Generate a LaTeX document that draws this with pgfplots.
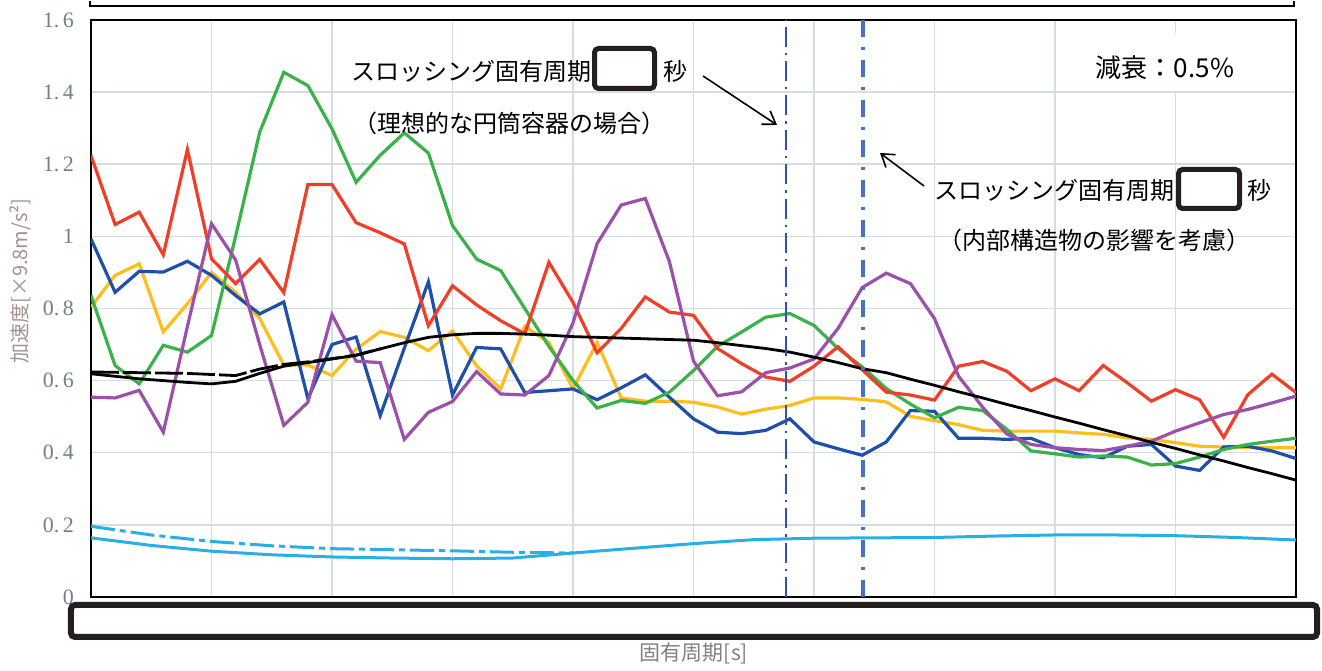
\documentclass[border=0pt]{standalone}
\usepackage{pgfplots}
\pgfplotsset{compat=1.18}
\usetikzlibrary{arrows.meta}
\usepackage{fontspec}
\setmainfont{Liberation Serif}
\newfontfamily\cjk{Noto Sans CJK JP}
\definecolor{cred}{RGB}{240,62,40}
\definecolor{cgreen}{RGB}{58,178,74}
\definecolor{cblue}{RGB}{30,80,170}
\definecolor{cyellow}{RGB}{255,190,30}
\definecolor{cpurple}{RGB}{155,80,170}
\definecolor{ccyan}{RGB}{40,175,230}
\definecolor{gridc}{RGB}{214,220,228}
\definecolor{tickc}{RGB}{110,128,144}
\definecolor{ylabc}{RGB}{165,145,140}
\definecolor{xlabc}{RGB}{128,128,128}
\definecolor{vlone}{RGB}{50,80,175}
\definecolor{vltwo}{RGB}{68,114,196}
\definecolor{boxc}{RGB}{35,31,32}
\begin{document}
\begin{tikzpicture}
\begin{scope}[x=0.5pt, y=-0.5pt, shift={(-45.5pt,297pt)}]
\path[use as bounding box] (0,0) rectangle (1322,662);
\end{scope}
\begin{axis}[
  at={(0pt,0pt)}, anchor=south west, scale only axis,
  width=602.5pt, height=288.5pt,
  xmin=0, xmax=10, ymin=0, ymax=1.6,
  xtick={0,1,2,3,4,5,6,7,8,9,10}, xticklabels={},
  ytick={0,0.2,0.4,0.6,0.8,1,1.2,1.4,1.6},
  yticklabels={0,{0.\,2},{0.\,4},{0.\,6},{0.\,8},1,{1.\,2},{1.\,4},{1.\,6}},
  grid=major, grid style={gridc, line width=0.75pt},
  major tick length=0pt,
  axis line style={black, line width=1pt},
  yticklabel style={font=\fontsize{11}{12}\selectfont, text=tickc, xshift=-5pt},
]
% cyan dashed (upper)
\addplot[ccyan, line width=1.5pt, dash pattern=on 12pt off 2.5pt on 3pt off 2.5pt] coordinates {
(0,0.196)(0.5,0.172)(1,0.154)(1.5,0.142)(2,0.134)(2.5,0.131)(3,0.128)(3.5,0.124)(4,0.122)};
% cyan solid
\addplot[ccyan, line width=1.5pt] coordinates {
(0,0.164)(0.5,0.143)(1,0.127)(1.5,0.117)(2,0.111)(2.5,0.108)(3,0.106)(3.5,0.108)(4,0.122)(4.5,0.135)(5,0.148)(5.5,0.159)(6,0.163)(6.5,0.164)(7,0.165)(7.5,0.169)(8,0.172)(8.5,0.172)(9,0.170)(9.5,0.165)(10,0.158)};
% yellow
\addplot[cyellow, line width=1.6pt] coordinates {
(0,0.804)(0.2,0.892)(0.4,0.924)(0.6,0.735)(0.8,0.813)(1.0,0.900)(1.2,0.845)(1.4,0.772)(1.6,0.643)(1.8,0.643)(2.0,0.614)(2.2,0.687)(2.4,0.736)(2.6,0.720)(2.8,0.683)(3.0,0.738)(3.2,0.641)(3.4,0.577)(3.6,0.750)(3.8,0.706)(4.0,0.577)(4.2,0.706)(4.4,0.552)(4.6,0.543)(4.8,0.543)(5.0,0.540)(5.2,0.527)(5.4,0.507)(5.6,0.521)(5.8,0.531)(6.0,0.552)(6.2,0.552)(6.4,0.548)(6.6,0.541)(6.8,0.501)(7.0,0.489)(7.2,0.478)(7.4,0.462)(7.6,0.460)(7.8,0.460)(8.0,0.460)(8.2,0.455)(8.4,0.451)(8.6,0.441)(8.8,0.437)(9.0,0.428)(9.2,0.418)(9.4,0.416)(9.6,0.414)(9.8,0.414)(10,0.414)};
% blue
\addplot[cblue, line width=1.6pt] coordinates {
(0,0.993)(0.2,0.845)(0.4,0.903)(0.6,0.901)(0.8,0.931)(1.0,0.892)(1.2,0.836)(1.4,0.785)(1.6,0.818)(1.8,0.550)(2.0,0.700)(2.2,0.721)(2.4,0.503)(2.6,0.690)(2.8,0.874)(3.0,0.560)(3.2,0.692)(3.4,0.688)(3.6,0.567)(3.8,0.572)(4.0,0.577)(4.2,0.547)(4.4,0.580)(4.6,0.616)(4.8,0.554)(5.0,0.494)(5.2,0.457)(5.4,0.453)(5.6,0.462)(5.8,0.494)(6.0,0.430)(6.2,0.411)(6.4,0.393)(6.6,0.430)(6.8,0.517)(7.0,0.515)(7.2,0.440)(7.4,0.440)(7.6,0.437)(7.8,0.440)(8.0,0.414)(8.2,0.395)(8.4,0.386)(8.6,0.418)(8.8,0.423)(9.0,0.363)(9.2,0.351)(9.4,0.416)(9.6,0.418)(9.8,0.405)(10,0.384)};
% green
\addplot[cgreen, line width=1.6pt] coordinates {
(0,0.836)(0.2,0.642)(0.4,0.591)(0.6,0.698)(0.8,0.679)(1.0,0.725)(1.2,1.000)(1.4,1.289)(1.6,1.455)(1.8,1.418)(2.0,1.298)(2.2,1.150)(2.4,1.225)(2.6,1.287)(2.8,1.231)(3.0,1.030)(3.2,0.937)(3.4,0.905)(3.6,0.800)(3.8,0.695)(4.0,0.600)(4.2,0.524)(4.4,0.545)(4.6,0.537)(4.8,0.568)(5.0,0.628)(5.2,0.695)(5.4,0.735)(5.6,0.776)(5.8,0.786)(6.0,0.753)(6.2,0.689)(6.4,0.638)(6.6,0.578)(6.8,0.535)(7.0,0.497)(7.2,0.526)(7.4,0.517)(7.6,0.465)(7.8,0.405)(8.0,0.397)(8.2,0.388)(8.4,0.391)(8.6,0.388)(8.8,0.366)(9.0,0.370)(9.2,0.388)(9.4,0.409)(9.6,0.423)(9.8,0.432)(10,0.440)};
% red
\addplot[cred, line width=1.6pt] coordinates {
(0,1.224)(0.2,1.033)(0.4,1.067)(0.6,0.949)(0.8,1.241)(1.0,0.938)(1.2,0.869)(1.4,0.936)(1.6,0.844)(1.8,1.144)(2.0,1.144)(2.2,1.038)(2.4,1.010)(2.6,0.979)(2.8,0.752)(3.0,0.863)(3.2,0.810)(3.4,0.766)(3.6,0.730)(3.8,0.928)(4.0,0.817)(4.2,0.677)(4.4,0.745)(4.6,0.832)(4.8,0.790)(5.0,0.781)(5.2,0.689)(5.4,0.647)(5.6,0.610)(5.8,0.598)(6.0,0.640)(6.2,0.694)(6.4,0.630)(6.6,0.568)(6.8,0.560)(7.0,0.546)(7.2,0.640)(7.4,0.653)(7.6,0.626)(7.8,0.572)(8.0,0.605)(8.2,0.572)(8.4,0.642)(8.6,0.594)(8.8,0.543)(9.0,0.575)(9.2,0.547)(9.4,0.443)(9.6,0.561)(9.8,0.618)(10,0.567)};
% purple
\addplot[cpurple, line width=1.6pt] coordinates {
(0,0.554)(0.2,0.552)(0.4,0.573)(0.6,0.457)(0.8,0.750)(1.0,1.035)(1.2,0.935)(1.4,0.700)(1.6,0.476)(1.8,0.540)(2.0,0.783)(2.2,0.654)(2.4,0.650)(2.6,0.437)(2.8,0.512)(3.0,0.542)(3.2,0.625)(3.4,0.563)(3.6,0.560)(3.8,0.614)(4.0,0.760)(4.2,0.980)(4.4,1.087)(4.6,1.105)(4.8,0.930)(5.0,0.654)(5.2,0.558)(5.4,0.569)(5.6,0.622)(5.8,0.635)(6.0,0.660)(6.2,0.745)(6.4,0.858)(6.6,0.898)(6.8,0.869)(7.0,0.772)(7.2,0.612)(7.4,0.526)(7.6,0.452)(7.8,0.423)(8.0,0.414)(8.2,0.409)(8.4,0.406)(8.6,0.418)(8.8,0.432)(9.0,0.460)(9.2,0.483)(9.4,0.506)(9.6,0.520)(9.8,0.538)(10,0.557)};
% black dashed
\addplot[black, line width=1.4pt, dash pattern=on 14pt off 2pt] coordinates {
(0,0.624)(0.4,0.622)(0.8,0.620)(1.0,0.617)(1.2,0.614)(1.4,0.632)(1.6,0.645)(1.8,0.652)(2.0,0.661)(2.2,0.671)(2.4,0.688)};
% black solid
\addplot[black, line width=1.4pt] coordinates {
(0,0.619)(0.2,0.612)(0.4,0.605)(0.6,0.600)(0.8,0.595)(1.0,0.591)(1.2,0.598)(1.4,0.620)(1.6,0.640)(1.8,0.650)(2.0,0.660)(2.2,0.670)(2.4,0.688)(2.6,0.705)(2.8,0.720)(3.0,0.727)(3.2,0.731)(3.4,0.731)(3.6,0.729)(3.8,0.726)(4.0,0.722)(4.2,0.720)(4.4,0.718)(4.6,0.716)(4.8,0.714)(5.0,0.712)(5.2,0.705)(5.4,0.697)(5.6,0.689)(5.8,0.679)(6.0,0.665)(6.2,0.650)(6.4,0.633)(6.6,0.622)(6.8,0.604)(7.0,0.587)(7.2,0.569)(7.4,0.552)(7.6,0.534)(7.8,0.517)(8.0,0.499)(8.2,0.482)(8.4,0.464)(8.6,0.447)(8.8,0.429)(9.0,0.412)(9.2,0.394)(9.4,0.377)(9.6,0.359)(9.8,0.342)(10,0.324)};
% sloshing period reference lines
\addplot[vlone, line width=1.1pt, dash pattern=on 10pt off 3pt on 1.2pt off 3pt] coordinates {(5.77,0)(5.77,1.6)};
\addplot[vltwo, line width=2pt, dash pattern=on 8.5pt off 5pt on 1.5pt off 5pt] coordinates {(6.41,0)(6.41,1.6)};
\end{axis}
\begin{scope}[x=0.5pt, y=-0.5pt, shift={(-45.5pt,297pt)}]
% top partial frame
\draw[line width=1pt, black] (90,-2) -- (90,3) -- (1294,3) -- (1294,-2);
% bottom masking box
\draw[line width=3pt, rounded corners=2pt, boxc] (71,602) rectangle (1317,634);
% labels
\node[rotate=90, font=\cjk\fontsize{10}{10}\selectfont, text=ylabc] at (20,278) {加速度[×9.8m/s²]};
\node[font=\cjk\fontsize{10.5}{10.5}\selectfont, text=xlabc] at (694,650) {固有周期[s]};
% left annotation
\node[anchor=west, inner sep=0, font=\cjk\fontsize{12}{12}\selectfont] at (351,68) {スロッシング固有周期};
\draw[line width=2.5pt, rounded corners=2pt, boxc] (594.5,45.5) rectangle (654.5,85.5);
\node[anchor=west, inner sep=0, font=\cjk\fontsize{12}{12}\selectfont] at (663,68) {秒};
\node[anchor=west, inner sep=0, font=\cjk\fontsize{12}{12}\selectfont] at (353,120) {（理想的な円筒容器の場合）};
\draw[line width=0.8pt, -{Straight Barb[length=6pt,width=8pt]}] (703,73) -- (777,122);
% damping
\fill[white] (1074,30) rectangle (1271,88);
\node[font=\cjk\fontsize{13}{13}\selectfont] at (1165,65) {減衰：0.5\%};
% right annotation
\draw[line width=0.8pt, -{Straight Barb[length=6pt,width=8pt]}] (924,183) -- (880,150);
\node[anchor=west, inner sep=0, font=\cjk\fontsize{12}{12}\selectfont] at (934,187) {スロッシング固有周期};
\draw[line width=2.5pt, rounded corners=2pt, boxc] (1178.5,166.5) rectangle (1239.5,205.5);
\node[anchor=west, inner sep=0, font=\cjk\fontsize{12}{12}\selectfont] at (1247,187) {秒};
\node[anchor=west, inner sep=0, font=\cjk\fontsize{12}{12}\selectfont] at (938,237) {（内部構造物の影響を考慮）};
\end{scope}
\end{tikzpicture}
\end{document}
